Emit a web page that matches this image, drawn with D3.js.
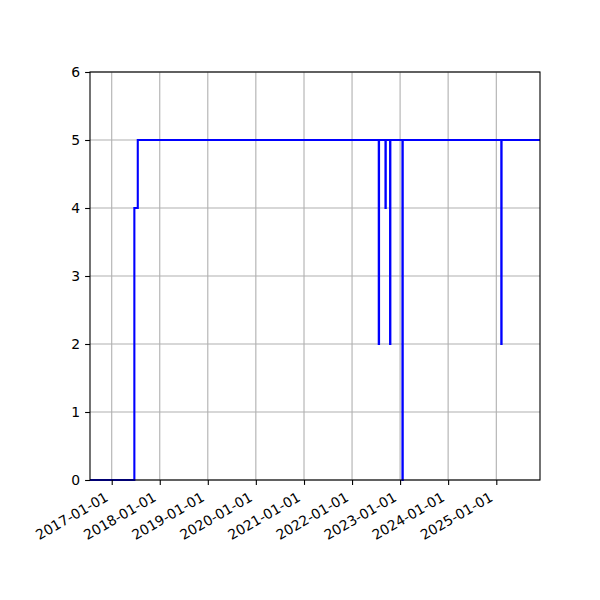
<!DOCTYPE html>
<html>
<head>
<meta charset="utf-8">
<script src="https://cdn.jsdelivr.net/npm/d3@7"></script>
<style>
  body { margin: 0; background: #fff; }
  text { font-family: "DejaVu Sans", sans-serif; }
</style>
</head>
<body>
<script>
var width = 600;
var height = 600;

// step series (value holds until next date)
var dates = ["2016-07-20", "2017-06-22", "2017-07-18",
    "2022-07-23", "2022-07-25", "2022-09-12", "2022-09-14",
    "2022-10-17", "2022-10-19", "2023-01-19", "2023-01-21",
    "2025-02-08", "2025-02-10", "2025-11-29"];
var values = [0, 4, 5, 2, 5, 4, 5, 2, 5, 0, 5, 2, 5, 5];

var xTicks = ["2017-01-01", "2018-01-01", "2019-01-01", "2020-01-01",
    "2021-01-01", "2022-01-01", "2023-01-01", "2024-01-01", "2025-01-01"];
var yTicks = [0, 1, 2, 3, 4, 5, 6];

var parse = d3.utcParse("%Y-%m-%d");
var points = dates.map(function(d, i) { return { date: parse(d), value: values[i] }; });

var plotL = 90, plotR = 540, plotT = 72, plotB = 480;

var svg = d3.select("body")
    .append("svg")
    .attr("width", width)
    .attr("height", height);

var x = d3.scaleUtc()
    .domain([parse(dates[0]), parse(dates[dates.length - 1])])
    .range([plotL, plotR]);

var y = d3.scaleLinear()
    .domain([0, 6])
    .range([plotB, plotT]);

// grid
svg.append("g")
    .selectAll("line")
    .data(xTicks)
    .enter()
    .append("line")
        .attr("x1", function(d) { return x(parse(d)); })
        .attr("x2", function(d) { return x(parse(d)); })
        .attr("y1", plotT)
        .attr("y2", plotB)
        .attr("stroke", "#b0b0b0")
        .attr("stroke-width", 1.1);

svg.append("g")
    .selectAll("line")
    .data(yTicks)
    .enter()
    .append("line")
        .attr("x1", plotL)
        .attr("x2", plotR)
        .attr("y1", function(d) { return y(d); })
        .attr("y2", function(d) { return y(d); })
        .attr("stroke", "#b0b0b0")
        .attr("stroke-width", 1.1);

// step line
var line = d3.line()
    .x(function(d) { return x(d.date); })
    .y(function(d) { return y(d.value); })
    .curve(d3.curveStepAfter);

svg.append("path")
    .datum(points)
    .attr("fill", "none")
    .attr("stroke", "#0000ff")
    .attr("stroke-width", 2.1)
    .attr("d", line);

// axes
var xAxis = svg.append("g")
    .attr("transform", "translate(0," + plotB + ")")
    .call(d3.axisBottom(x)
        .tickValues(xTicks.map(parse))
        .tickFormat(d3.utcFormat("%Y-%m-%d"))
        .tickSize(4.9)
        .tickPadding(3));

xAxis.select(".domain").remove();
xAxis.selectAll(".tick line").attr("stroke", "#000").attr("stroke-width", 1.1);
xAxis.selectAll(".tick text")
    .attr("font-size", 13.9)
    .attr("fill", "#000")
    .attr("text-anchor", "end")
    .attr("x", 0)
    .attr("y", 0)
    .attr("dy", 0)
    .attr("transform", "translate(-3,20) rotate(-30)");

var yAxis = svg.append("g")
    .attr("transform", "translate(" + plotL + ",0)")
    .call(d3.axisLeft(y)
        .tickValues(yTicks)
        .tickFormat(d3.format("d"))
        .tickSize(4.9)
        .tickPadding(4.9));

yAxis.select(".domain").remove();
yAxis.selectAll(".tick line").attr("stroke", "#000").attr("stroke-width", 1.1);
yAxis.selectAll(".tick text").attr("font-size", 13.9).attr("fill", "#000");

// frame
svg.append("rect")
    .attr("x", plotL)
    .attr("y", plotT)
    .attr("width", plotR - plotL)
    .attr("height", plotB - plotT)
    .attr("fill", "none")
    .attr("stroke", "#000")
    .attr("stroke-width", 1.1);
</script>
</body>
</html>
